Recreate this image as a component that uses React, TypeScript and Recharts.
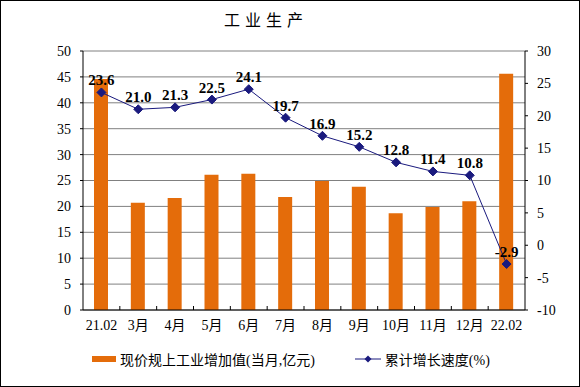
import React from 'react';
import { ComposedChart, Bar, Line, XAxis, YAxis, CartesianGrid, Legend, LabelList } from 'recharts';

const categories = ['21.02', '3月', '4月', '5月', '6月', '7月', '8月', '9月', '10月', '11月', '12月', '22.02'];
const outputValues = [44.6, 20.7, 21.6, 26.1, 26.3, 21.8, 24.9, 23.8, 18.7, 19.9, 21.0, 45.6];
const growthRates = [23.6, 21.0, 21.3, 22.5, 24.1, 19.7, 16.9, 15.2, 12.8, 11.4, 10.8, -2.9];
const leftTicks = [0, 5, 10, 15, 20, 25, 30, 35, 40, 45, 50];
const rightTicks = [-10, -5, 0, 5, 10, 15, 20, 25, 30];

const seriesNames = ['现价规上工业增加值(当月,亿元)', '累计增长速度(%)'];

const W = 580;
const H = 387;
const LEFT_W = 83;
const RIGHT_W = 55;
const BAND = (W - LEFT_W - RIGHT_W) / categories.length;

const FONT = '"Liberation Serif", "Noto Sans CJK SC", serif';
const BAR_COLOR = '#e46c0a';
const LINE_COLOR = '#1a1a7e';

const data = categories.map((c, i) => ({
  name: c,
  output: outputValues[i],
  growth: growthRates[i],
}));

const Diamond = (props: any) => {
  const { cx, cy } = props;
  if (cx == null || cy == null) return null;
  const r = 4.5;
  return (
    <polygon
      points={`${cx},${cy - r} ${cx + r},${cy} ${cx},${cy + r} ${cx - r},${cy}`}
      fill={LINE_COLOR}
      stroke={LINE_COLOR}
    />
  );
};

const CategoryTick = (props: any) => {
  const { x, y, payload, index } = props;
  return (
    <g>
      {index < categories.length - 1 && (
        <line x1={x + BAND / 2} x2={x + BAND / 2} y1={y - 4} y2={y} stroke="#000" />
      )}
      <text x={x} y={y + 20} textAnchor="middle" fontSize={14} fill="#000" fontFamily={FONT}>
        {payload.value}
      </text>
    </g>
  );
};

const LegendContent = () => (
  <div style={{ display: 'flex', alignItems: 'center', fontFamily: FONT, fontSize: 14, color: '#000', whiteSpace: 'nowrap' }}>
    <span style={{ display: 'inline-block', width: 24, height: 6, background: BAR_COLOR, marginRight: 4 }} />
    <span>{seriesNames[0]}</span>
    <svg width={26} height={10} style={{ marginLeft: 40, marginRight: 4 }}>
      <line x1={0} x2={26} y1={5} y2={5} stroke={LINE_COLOR} />
      <polygon points="13,1.5 16.5,5 13,8.5 9.5,5" fill={LINE_COLOR} />
    </svg>
    <span>{seriesNames[1]}</span>
  </div>
);

export default function App() {
  return (
    <div style={{ position: 'absolute', left: 0, top: 0, width: W, height: H, background: '#fff' }}>
      <ComposedChart
        width={W}
        height={H}
        data={data}
        margin={{ top: 51, right: 0, bottom: 57, left: 0 }}
      >
        <text x={266} y={26} textAnchor="middle" fontSize={16} letterSpacing={5} fontFamily={FONT} fill="#000">
          工业生产
        </text>
        <CartesianGrid vertical={false} stroke="#808080" yAxisId="left" />
        <XAxis
          dataKey="name"
          height={20}
          tickSize={0}
          tickMargin={0}
          tick={<CategoryTick />}
          axisLine={{ stroke: '#000' }}
          interval={0}
        />
        <YAxis
          yAxisId="left"
          domain={[0, 50]}
          ticks={leftTicks}
          width={LEFT_W}
          tickSize={3}
          tickMargin={9}
          axisLine={{ stroke: '#000' }}
          tickLine={{ stroke: '#000' }}
          tick={{ fill: '#000', fontSize: 14, fontFamily: FONT }}
          interval={0}
        />
        <YAxis
          yAxisId="right"
          orientation="right"
          domain={[-10, 30]}
          ticks={rightTicks}
          width={RIGHT_W}
          tickSize={3}
          tickMargin={9}
          axisLine={{ stroke: '#000' }}
          tickLine={{ stroke: '#000' }}
          tick={{ fill: '#000', fontSize: 14, fontFamily: FONT }}
          interval={0}
        />
        <Legend
          layout="horizontal"
          verticalAlign="middle"
          align="center"
          content={<LegendContent />}
          wrapperStyle={{ position: 'absolute', top: 349, left: 92, width: 'auto' }}
        />
        <Bar yAxisId="left" dataKey="output" fill={BAR_COLOR} barSize={14} isAnimationActive={false} />
        <Line
          yAxisId="right"
          dataKey="growth"
          stroke={LINE_COLOR}
          strokeWidth={1}
          dot={<Diamond />}
          activeDot={false}
          isAnimationActive={false}
        >
          <LabelList
            dataKey="growth"
            position="top"
            offset={7}
            formatter={(v: any) => Number(v).toFixed(1)}
            style={{ fill: '#000', fontWeight: 'bold', fontSize: 15, fontFamily: FONT }}
          />
        </Line>
      </ComposedChart>
      <div
        style={{
          position: 'absolute',
          left: 0,
          top: 0,
          width: W,
          height: H,
          boxSizing: 'border-box',
          border: '1px solid #000',
          pointerEvents: 'none',
        }}
      />
    </div>
  );
}
